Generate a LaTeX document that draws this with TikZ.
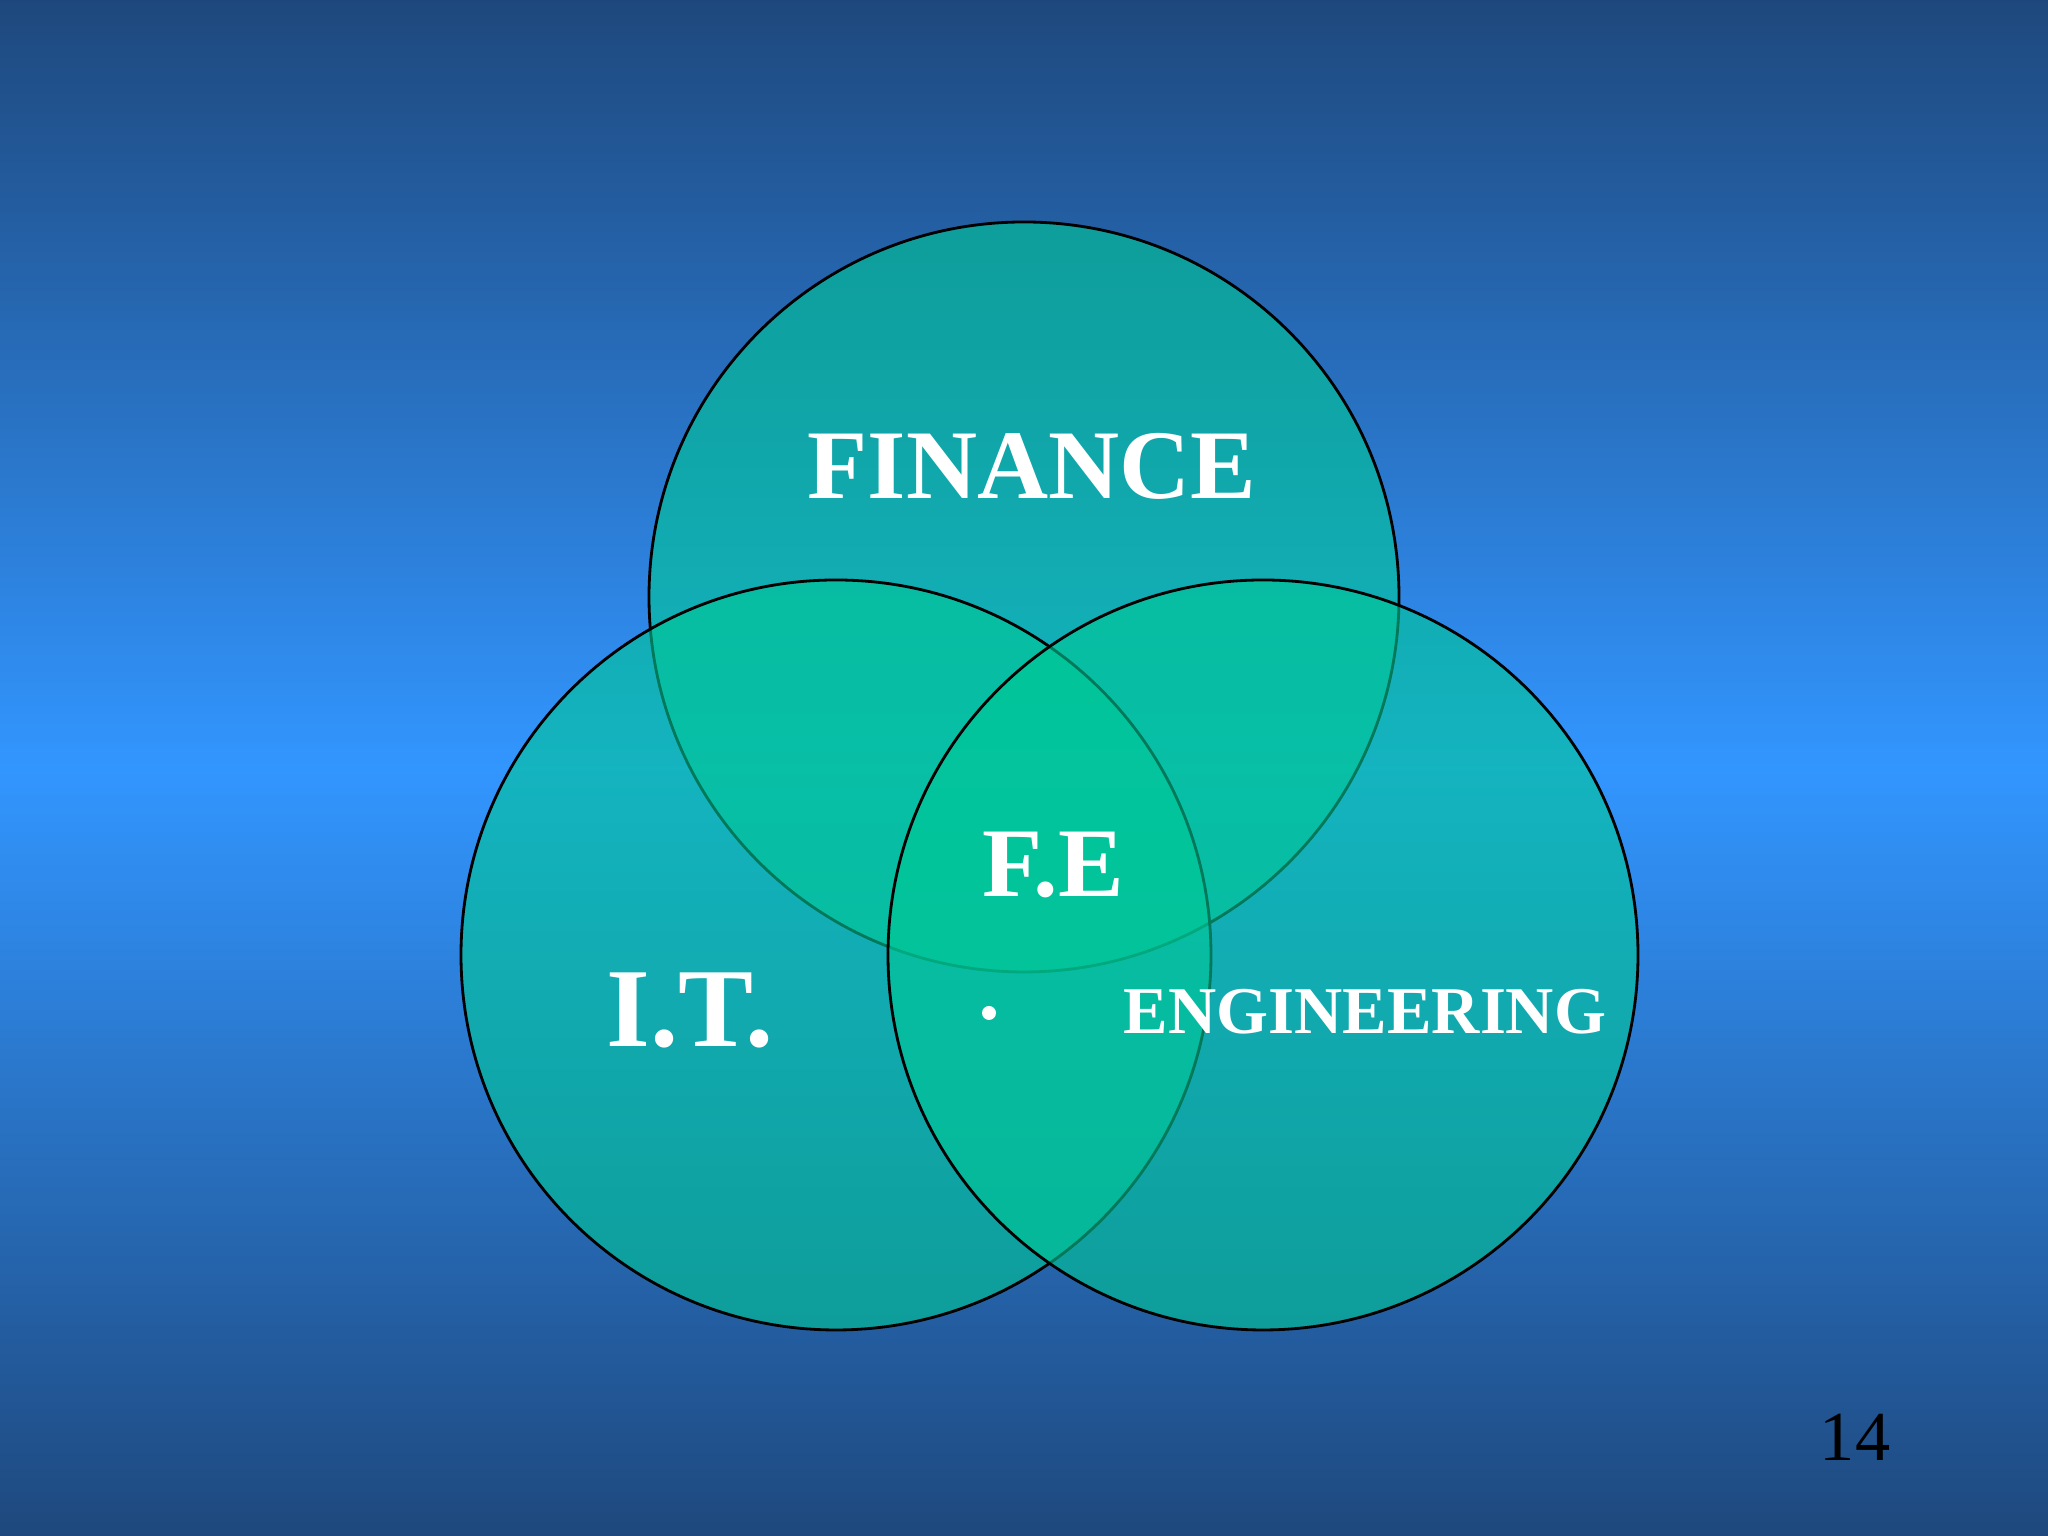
\documentclass[tikz,border=0pt]{standalone}
\usepackage{fontspec}
\setmainfont{Liberation Serif}
\definecolor{bgdark}{RGB}{30,72,125}
\definecolor{bgmid}{RGB}{50,150,255}
\definecolor{venn}{RGB}{0,200,150}
\begin{document}
\begin{tikzpicture}
\tikzset{vennc/.style={fill=venn,fill opacity=0.6,draw=black,draw opacity=1,line width=0.8pt},
lbl/.style={text=white,font=\bfseries}}
\useasboundingbox (0,0) rectangle (20.48,15.36);
\shade[top color=bgmid,bottom color=bgdark] (0,0) rectangle (20.48,7.68);
\shade[top color=bgdark,bottom color=bgmid] (0,7.68) rectangle (20.48,15.36);
\path[vennc] (10.24,9.39) circle (3.75);
\path[vennc] (8.36,5.81) circle (3.75);
\path[vennc] (12.63,5.81) circle (3.75);
\node[lbl,font=\bfseries\fontsize{28}{30}\selectfont] (fin) at (10.32,10.70) {FINANCE};
\node[lbl,font=\bfseries\fontsize{28}{30}\selectfont] (fe) at (10.53,6.71) {F.E};
\node[lbl,font=\bfseries\fontsize{32}{34}\selectfont] (it) at (6.90,5.26) {I.T.};
\node[lbl,font=\bfseries\fontsize{19}{21}\selectfont] (eng) at (13.65,5.24) {ENGINEERING};
\fill[white] (9.89,5.23) circle (0.07);
\node[text=black,font=\fontsize{20}{22}\selectfont] (pg) at (18.55,0.99) {14};
\end{tikzpicture}
\end{document}
